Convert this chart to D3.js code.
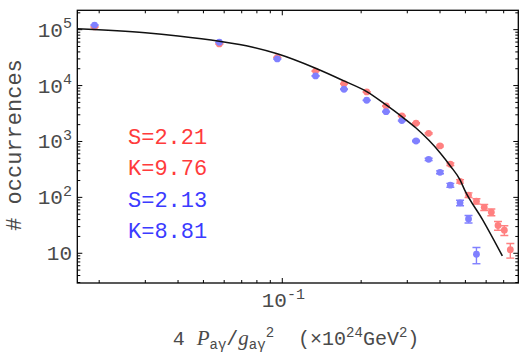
<!DOCTYPE html>
<html><head><meta charset="utf-8">
<script src="https://cdn.jsdelivr.net/npm/d3@7"></script>
<style>
html,body{margin:0;padding:0;background:#fff;}
svg text{font-family:"Liberation Mono","DejaVu Sans Mono",monospace;}
</style></head>
<body><svg id="c" width="525" height="352"></svg>
<script>
// ---- data ----
const binCenters = [0.0192, 0.0575, 0.0957, 0.134, 0.172, 0.210, 0.249, 0.286, 0.324, 0.362, 0.400, 0.438, 0.477, 0.514, 0.551, 0.590, 0.628, 0.666, 0.704, 0.742];
const redCounts = [112000, 55500, 32000, 18200, 10800, 7690, 4320, 2860, 2120, 1400, 831, 391, 194, 110, 85.5, 66.5, 54.4, 31.4, 25.9, 11.6];
const redErrors = [335, 236, 179, 135, 104, 88, 66, 53, 46, 37, 29, 20, 14, 10.5, 9.2, 8.2, 7.4, 5.6, 5.1, 3.4];
const blueCounts = [121000, 59500, 29900, 14900, 8590, 5460, 3410, 2360, 1020, 480, 281, 165, 80, 41.1, 9.6];
const blueErrors = [348, 244, 173, 122, 93, 74, 58, 49, 32, 22, 17, 13, 9, 6.4, 3.1];
const fitX = [0.0165, 0.03, 0.04, 0.0575, 0.0765, 0.0957, 0.134, 0.172, 0.21, 0.249, 0.286, 0.324, 0.362, 0.40, 0.438, 0.477, 0.497, 0.582, 0.692];
const fitY = [104000, 88000, 77000, 62000, 49000, 37000, 20400, 12100, 7780, 4500, 2780, 1740, 1060, 631, 365, 205, 135, 39.5, 8.95];
const yMajorTicks = [10, 100, 1000, 10000, 100000];
const yTickExp = ["", "2", "3", "4", "5"];
const xMajorTicks = [0.1];
const legendLines = ["S=2.21", "K=9.76", "S=2.13", "K=8.81"];
const legendColors = ["#ff3b3b", "#ff3b3b", "#3b3bff", "#3b3bff"];

// ---- layout ----
const L = 77.3, R = 518.3, T = 10.3, B = 283;
const svg = d3.select("#c");
const x = d3.scaleLog().domain([0.0165, 0.796]).range([L, R]);
const y = d3.scaleLog().domain([2.94, 222000]).range([B, T]);

const labelColor = "#4a4a4a";

// minor ticks
const yMinor = [];
for (let e = 0; e <= 5; e++) for (let m = 2; m <= 9; m++) { const v = m * Math.pow(10, e); if (v >= 2.94 && v <= 222000) yMinor.push(v); }
const xMinor = [];
for (let e = -2; e <= -1; e++) for (let m = 2; m <= 9; m++) { const v = m * Math.pow(10, e); if (v >= 0.0165 && v <= 0.796) xMinor.push(v); }

const axes = svg.append("g").attr("stroke", "#000").attr("stroke-width", 1);
const majL = 5, minL = 3;
yMinor.forEach(v => {
  axes.append("line").attr("x1", L).attr("x2", L + minL).attr("y1", y(v)).attr("y2", y(v));
  axes.append("line").attr("x1", R).attr("x2", R - minL).attr("y1", y(v)).attr("y2", y(v));
});
yMajorTicks.forEach(v => {
  axes.append("line").attr("x1", L).attr("x2", L + majL).attr("y1", y(v)).attr("y2", y(v));
  axes.append("line").attr("x1", R).attr("x2", R - majL).attr("y1", y(v)).attr("y2", y(v));
});
xMinor.forEach(v => {
  axes.append("line").attr("y1", B).attr("y2", B - minL).attr("x1", x(v)).attr("x2", x(v));
  axes.append("line").attr("y1", T).attr("y2", T + minL).attr("x1", x(v)).attr("x2", x(v));
});
xMajorTicks.forEach(v => {
  axes.append("line").attr("y1", B).attr("y2", B - majL).attr("x1", x(v)).attr("x2", x(v));
  axes.append("line").attr("y1", T).attr("y2", T + majL).attr("x1", x(v)).attr("x2", x(v));
});
svg.append("rect").attr("x", L).attr("y", T).attr("width", R - L).attr("height", B - T)
  .attr("fill", "none").attr("stroke", "#000").attr("stroke-width", 1.3);

// y tick labels
yMajorTicks.forEach((v, i) => {
  const t = svg.append("text").attr("x", 72).attr("y", y(v) + 7).attr("text-anchor", "end")
    .attr("font-size", 21).attr("fill", labelColor);
  t.append("tspan").text("10");
  if (yTickExp[i]) t.append("tspan").attr("dy", -8.5).attr("font-size", 15).text(yTickExp[i]);
});
// x tick label
xMajorTicks.forEach(v => {
  const t = svg.append("text").attr("x", x(v) + 1).attr("y", 307).attr("text-anchor", "middle")
    .attr("font-size", 21).attr("fill", labelColor);
  t.append("tspan").text("10");
  t.append("tspan").attr("dy", -8).attr("font-size", 15).text("-1");
});

// axis labels
svg.append("text").attr("transform", "translate(21,145) rotate(-90)").attr("text-anchor", "middle")
  .attr("font-size", 22).attr("fill", labelColor).text("# occurrences");

const xl = svg.append("text").attr("x", 296).attr("y", 345).attr("text-anchor", "middle")
  .attr("font-size", 20).attr("fill", labelColor).attr("xml:space", "preserve");
xl.append("tspan").text("4 ");
xl.append("tspan").attr("font-style", "italic").attr("font-family", "Liberation Serif, serif").attr("font-size", 21).text("P");
xl.append("tspan").attr("font-size", 14).attr("dy", 4).text("aγ");
xl.append("tspan").attr("dy", -4).text("/");
xl.append("tspan").attr("font-style", "italic").attr("font-family", "Liberation Serif, serif").attr("font-size", 21).text("g");
xl.append("tspan").attr("font-size", 14).attr("dy", 4).text("aγ");
xl.append("tspan").attr("font-size", 14).attr("dy", -12).text("2");
xl.append("tspan").attr("dy", 8).text("  (×10");
xl.append("tspan").attr("font-size", 14).attr("dy", -8).text("24");
xl.append("tspan").attr("dy", 8).text("GeV");
xl.append("tspan").attr("font-size", 14).attr("dy", -8).text("2");
xl.append("tspan").attr("dy", 8).text(")");

// plot area clip
svg.append("clipPath").attr("id", "clip").append("rect").attr("x", L).attr("y", T).attr("width", R - L).attr("height", B - T);
const plot = svg.append("g").attr("clip-path", "url(#clip)");

function drawSeries(counts, errs, color) {
  const g = plot.append("g");
  counts.forEach((c, i) => {
    const cx = x(binCenters[i]);
    const lo = Math.max(c - errs[i], 1e-3), hi = c + errs[i];
    g.append("line").attr("x1", cx).attr("x2", cx).attr("y1", y(lo)).attr("y2", y(hi)).attr("stroke", color).attr("stroke-width", 1.4);
    [lo, hi].forEach(v => g.append("line").attr("x1", cx - 4).attr("x2", cx + 4).attr("y1", y(v)).attr("y2", y(v)).attr("stroke", color).attr("stroke-width", 1.4));
    g.append("circle").attr("cx", cx).attr("cy", y(c)).attr("r", 3.4).attr("fill", color);
  });
}
drawSeries(redCounts, redErrors, "#ff8080");
drawSeries(blueCounts, blueErrors, "#8080ff");

// fit curve
const fit = fitX.map((v, i) => [v, fitY[i]]);
plot.append("path").datum(fit).attr("fill", "none").attr("stroke", "#111").attr("stroke-width", 1.5)
  .attr("d", d3.line().x(d => x(d[0])).y(d => y(d[1])).curve(d3.curveMonotoneX));

// legend text
legendLines.forEach((s, i) => {
  svg.append("text").attr("x", 128).attr("y", 144 + i * 31.3).attr("font-size", 22)
    .attr("fill", legendColors[i]).text(s);
});
</script></body></html>
